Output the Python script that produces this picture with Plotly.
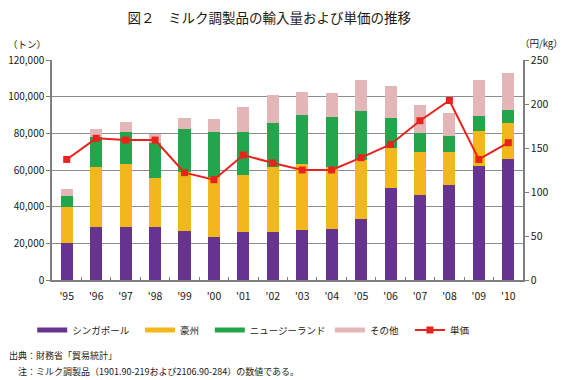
import plotly.graph_objects as go

years = ["'95", "'96", "'97", "'98", "'99", "'00", "'01", "'02", "'03", "'04", "'05", "'06", "'07", "'08", "'09", "'10"]
singapore = [20300, 29100, 29000, 29000, 26900, 23700, 26400, 26000, 27300, 27700, 33300, 50200, 46600, 51800, 62200, 66200]
australia = [19700, 32400, 34100, 26400, 32200, 32700, 30900, 35800, 36000, 34100, 32100, 22000, 23200, 18000, 19300, 19600]
new_zealand = [6000, 16700, 17800, 19500, 23400, 24200, 23600, 24000, 26900, 27300, 26800, 16400, 10400, 8800, 8000, 6800]
others = [3500, 4000, 5500, 4700, 6000, 7100, 13500, 15300, 12500, 12700, 16700, 17200, 15100, 12700, 19400, 20300]
unit_price = [137, 161, 159, 159, 122, 114, 142, 133, 125, 125, 139, 154, 181, 204, 137, 156]

names = ["シンガポール", "豪州", "ニュージーランド", "その他", "単価"]
colors = ["#66348F", "#F3B71E", "#23A64B", "#E4B6B7", "#E8231E"]

FONT = "Noto Sans CJK JP, sans-serif"
TXT = "#231815"

fig = go.Figure()
for vals, name, col in zip([singapore, australia, new_zealand, others], names[:4], colors[:4]):
    fig.add_trace(go.Bar(x=years, y=vals, name=name, marker=dict(color=col, line=dict(width=0)),
                         showlegend=False))

fig.add_trace(go.Scatter(x=years, y=unit_price, name=names[4], yaxis="y2", mode="lines+markers",
                         line=dict(color=colors[4], width=2),
                         marker=dict(symbol="square", size=7, color=colors[4]), showlegend=False))

# legend entries, each in its own legend box
legend_x = [-0.042, 0.187, 0.335, 0.590, 0.760]
for i, (name, col) in enumerate(zip(names, colors)):
    lg = "legend" if i == 0 else f"legend{i+1}"
    if i < 4:
        fig.add_trace(go.Scatter(x=[None], y=[None], name=name, mode="lines",
                                 line=dict(color=col, width=5), legend=lg, showlegend=True))
    else:
        fig.add_trace(go.Scatter(x=[None], y=[None], name=name, mode="lines+markers",
                                 line=dict(color=col, width=2),
                                 marker=dict(symbol="square", size=7, color=col),
                                 legend=lg, showlegend=True))

leg_common = dict(orientation="h", yanchor="middle", y=-0.227, xanchor="left",
                  bgcolor="rgba(0,0,0,0)", font=dict(family=FONT, size=9.5, color=TXT),
                  itemwidth=30, borderwidth=0)
layout_legends = {}
for i, lx in enumerate(legend_x):
    key = "legend" if i == 0 else f"legend{i+1}"
    layout_legends[key] = dict(leg_common, x=lx)

fig.update_layout(
    width=558, height=372,
    margin=dict(l=44, r=43, t=52, b=100, autoexpand=False),
    paper_bgcolor="white", plot_bgcolor="white",
    barmode="stack", bargap=0.59,
    font=dict(family=FONT, size=10.5, color=TXT),
    title=dict(text="図２　ミルク調製品の輸入量および単価の推移", x=0.468, xanchor="center",
               y=0.973, yanchor="middle", font=dict(family=FONT, size=13.5, color=TXT)),
    xaxis=dict(type="category", range=[-0.5, len(years) - 0.5], autorange=False,
               showline=True, linecolor="#7f7f7f", linewidth=1.5,
               ticks="inside", tickson="boundaries", ticklen=3, tickcolor="#7f7f7f",
               ticklabelstandoff=6,
               tickfont=dict(size=10.5, color=TXT), showgrid=False),
    yaxis=dict(range=[0, 120000], dtick=20000, tickformat=",d", showgrid=True,
               gridcolor="#8c8c8c", gridwidth=1, showline=True, linecolor="#7f7f7f",
               linewidth=1.5, ticks="outside", ticklen=4, tickcolor="#7f7f7f",
               tickfont=dict(size=10, color=TXT), zeroline=False),
    yaxis2=dict(range=[0, 250], dtick=50, overlaying="y", side="right", showgrid=False,
                showline=True, linecolor="#7f7f7f", linewidth=1.5, ticks="outside",
                ticklen=4, tickcolor="#7f7f7f", tickfont=dict(size=10.5, color=TXT), zeroline=False),
    **layout_legends,
    annotations=[
        dict(text="（トン）", xref="paper", yref="paper", x=-0.053, y=1.073, xanchor="center",
             yanchor="middle", showarrow=False, font=dict(size=9.5, color=TXT)),
        dict(text="（円/kg）", xref="paper", yref="paper", x=1.040, y=1.077, xanchor="center",
             yanchor="middle", showarrow=False, font=dict(size=9.5, color=TXT)),
        dict(text="出典：財務省「貿易統計」", xref="paper", yref="paper", x=-0.095, y=-0.341,
             xanchor="left", yanchor="middle", showarrow=False, font=dict(size=9, color=TXT)),
        dict(text="　注：ミルク調製品（1901.90-219および2106.90-284）の数値である。", xref="paper",
             yref="paper", x=-0.095, y=-0.418, xanchor="left", yanchor="middle", showarrow=False,
             font=dict(size=9, color=TXT)),
    ],
)

fig.write_html("out.html")
